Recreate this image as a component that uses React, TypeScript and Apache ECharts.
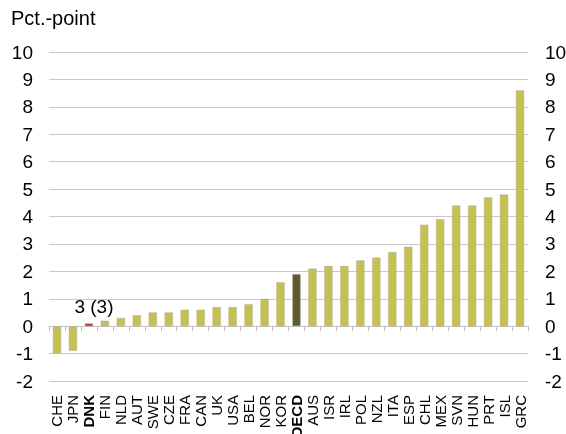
import React, { useEffect, useRef } from "react";
import * as echarts from "echarts";

const categories = ["CHE","JPN","DNK","FIN","NLD","AUT","SWE","CZE","FRA","CAN","UK","USA","BEL","NOR","KOR","OECD","AUS","ISR","IRL","POL","NZL","ITA","ESP","CHL","MEX","SVN","HUN","PRT","ISL","GRC"];
const values = [-1.0,-0.9,0.1,0.2,0.3,0.4,0.5,0.5,0.6,0.6,0.7,0.7,0.8,1.0,1.6,1.9,2.1,2.2,2.2,2.4,2.5,2.7,2.9,3.7,3.9,4.4,4.4,4.7,4.8,8.6];
const boldCats = ["DNK", "OECD"];
const highlight: Record<string, string> = { DNK: "#c0302a", OECD: "#5e5a2c" };
const dnkLabel = "3 (3)";
const yTitle = "Pct.-point";

export default function App() {
  const ref = useRef<HTMLDivElement>(null);
  useEffect(() => {
    if (!ref.current) return;
    const chart = echarts.init(ref.current, undefined, { renderer: "svg" });
    const font = "'Liberation Sans', Arial, sans-serif";
    const yAxisBase = {
      type: "value" as const,
      min: -2,
      max: 10,
      interval: 1,
      axisLine: { show: false },
      axisTick: { show: false },
      splitLine: { lineStyle: { color: "#c8c8c8", width: 1 } },
      axisLabel: { fontSize: 19, color: "#000", fontFamily: font, margin: 16 },
    };
    chart.setOption({
      animation: false,
      grid: { left: 49, right: 38, top: 52, bottom: 53, outerBoundsMode: "none", containLabel: false },
      graphic: [
        { type: "text", left: 11, top: 8, style: { text: yTitle, fontSize: 20, fill: "#000", fontFamily: font } },
      ],
      xAxis: {
        type: "category",
        data: categories,
        axisLine: { lineStyle: { color: "#c0c0c0" } },
        axisTick: { show: true, length: 5, lineStyle: { color: "#c0c0c0" } },
        axisLabel: {
          rotate: 90,
          interval: 0,
          margin: 14,
          fontSize: 15,
          color: "#000",
          fontFamily: font,
          formatter: (v: string) => (boldCats.includes(v) ? `{b|${v}}` : v),
          rich: { b: { fontWeight: "bold", fontSize: 15, fontFamily: font, color: "#000" } },
        },
      },
      yAxis: [
        { ...yAxisBase, position: "left" },
        { ...yAxisBase, position: "right", axisLabel: { ...yAxisBase.axisLabel, margin: 17 } },
      ],
      series: [
        {
          type: "bar",
          barWidth: "52%",
          data: categories.map((c, i) => ({
            value: values[i],
            itemStyle: { color: highlight[c] || "#c6c04e" },
            label: c === "DNK"
              ? { show: true, position: "top", formatter: dnkLabel, fontSize: 19, color: "#000", fontFamily: font, offset: [5, -2] }
              : { show: false },
          })),
          itemStyle: { borderColor: "#b0b0b0", borderWidth: 0.5 },
        },
      ],
    });
    return () => chart.dispose();
  }, []);
  return <div ref={ref} style={{ position: "fixed", left: 0, top: 0, width: 566, height: 434 }} />;
}
